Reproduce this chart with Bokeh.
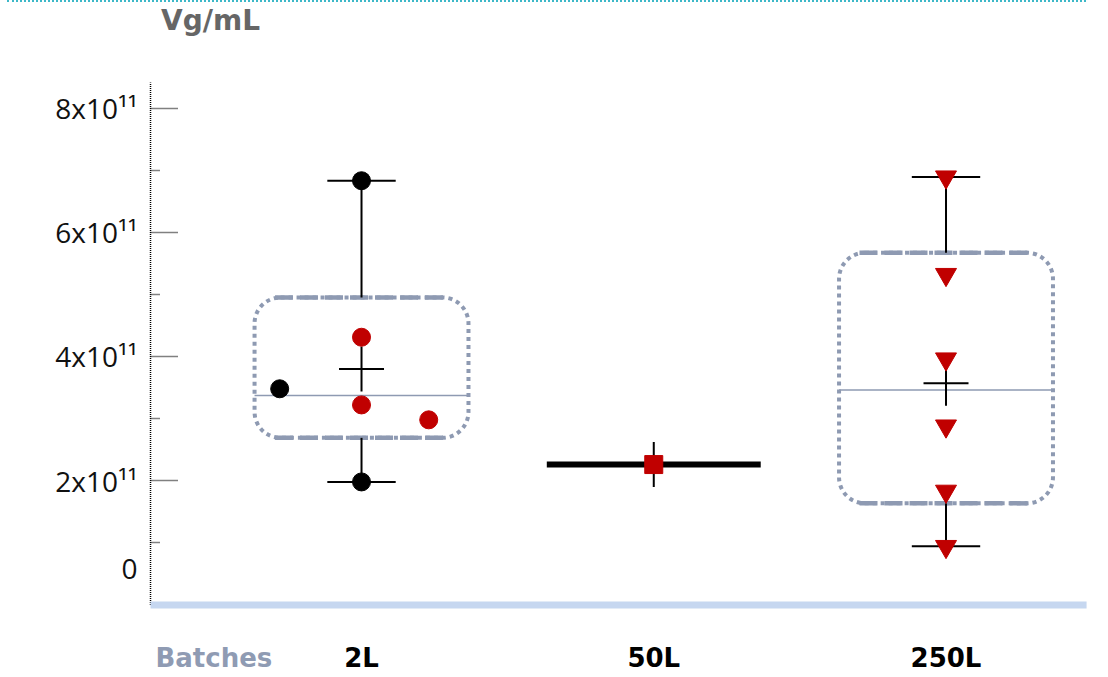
from bokeh.plotting import figure
from bokeh.models import FixedTicker, Label, LabelSet, ColumnDataSource, Range1d, Div
from bokeh.layouts import column
from bokeh.embed import file_html
from bokeh.resources import INLINE
from bokeh.core.properties import value

# ---------------- data ----------------
groups = ["2L", "50L", "250L"]
group_pos = [1, 2, 3]
q1 = [2.69e11, 2.26e11, 1.635e11]
q3 = [4.95e11, 2.26e11, 5.67e11]
medians = [3.37e11, 2.26e11, 3.46e11]
means = [3.80e11, 2.26e11, 3.57e11]
whisker_low = [1.98e11, 2.26e11, 0.945e11]
whisker_high = [6.83e11, 2.26e11, 6.89e11]

pts_group = ["2L"] * 6 + ["50L"] + ["250L"] * 6
pts_value = [6.83e11, 4.31e11, 3.48e11, 3.22e11, 2.98e11, 1.98e11,
             2.26e11,
             6.89e11, 5.32e11, 3.96e11, 2.88e11, 1.83e11, 0.94e11]
pts_jitter = [0, 0, -0.28, 0, 0.23, 0,
              0,
              0, 0, 0, 0, 0, 0]
pts_color = ["#000000", "#c00000", "#000000", "#c00000", "#c00000", "#000000",
             "#c00000",
             "#c00000", "#c00000", "#c00000", "#c00000", "#c00000", "#c00000"]

y_ticks = [200000000000, 400000000000, 600000000000, 800000000000]
y_minor_ticks = [100000000000, 300000000000, 500000000000, 700000000000]
y_tick_labels = ["2x10¹¹", "4x10¹¹", "6x10¹¹", "8x10¹¹"]
y_zero_label = "0"

y_title = "Vg/mL"
x_title = "Batches"

# ---------------- layout / style ----------------
BOX_HALF = 0.366
CAP_HALF = 0.117
EDGE_INSET = 0.07
GREY = "#8e9ab2"
# plotting area spans the whole canvas; axis drawn at AXIS_X
X_START, X_END = -0.2353, 3.5560
AXIS_X, AXIS_RIGHT = 0.278, 3.481
Y_START, Y_END = -1.169e11, 9.70e11
AXIS_TOP = 8.41e11
marker_for = {"2L": "circle", "50L": "square", "250L": "inverted_triangle"}
size_for = {"2L": 18, "50L": 18, "250L": 21}

p = figure(width=1108, height=675, output_backend="svg", toolbar_location=None,
           x_range=Range1d(X_START, X_END), y_range=Range1d(Y_START, Y_END),
           min_border_left=0, min_border_right=0, min_border_top=0,
           min_border_bottom=0)
p.xgrid.visible = False
p.ygrid.visible = False
p.xaxis.visible = False
p.outline_line_color = None
p.background_fill_color = "white"
p.border_fill_color = "white"

# y axis placed inside at AXIS_X
p.yaxis.fixed_location = AXIS_X
p.yaxis.ticker = FixedTicker(ticks=y_ticks, minor_ticks=y_minor_ticks)
p.yaxis.major_label_overrides = dict(zip(y_ticks, y_tick_labels))
p.yaxis.axis_line_color = None
p.yaxis.major_tick_in = 27
p.yaxis.major_tick_out = 0
p.yaxis.major_tick_line_dash = "1 1"
p.yaxis.major_tick_line_width = 1.3
p.yaxis.major_tick_line_color = "#000000"
p.yaxis.minor_tick_in = 10
p.yaxis.minor_tick_out = 0
p.yaxis.minor_tick_line_dash = "1 1"
p.yaxis.minor_tick_line_width = 1.3
p.yaxis.minor_tick_line_color = "#000000"
p.yaxis.major_label_standoff = 13
p.yaxis.major_label_text_font = "Open Sans"
p.yaxis.major_label_text_font_size = "28px"
p.yaxis.major_label_text_color = "#111111"

# axis lines
p.segment(x0=[AXIS_X], x1=[AXIS_X], y0=[0], y1=[AXIS_TOP],
          line_color="#000000", line_width=1.5, line_dash="1 1")
p.segment(x0=[AXIS_X], x1=[AXIS_RIGHT], y0=[0], y1=[0],
          line_color="#c6d7f0", line_width=7)

# boxes (non-degenerate)
box_idx = [i for i in range(len(groups)) if q3[i] > q1[i]]
bx = [group_pos[i] for i in box_idx]
box_src = ColumnDataSource(dict(
    left=[x - BOX_HALF for x in bx], right=[x + BOX_HALF for x in bx],
    top=[q3[i] for i in box_idx], bottom=[q1[i] for i in box_idx],
    med=[medians[i] for i in box_idx],
    el=[x - BOX_HALF + EDGE_INSET for x in bx], er=[x + BOX_HALF - EDGE_INSET for x in bx],
))
p.quad(left="left", right="right", top="top", bottom="bottom", source=box_src,
       fill_color=None, line_color=GREY, line_width=4, line_dash="4 4",
       border_radius=26)
p.segment(x0="el", x1="er", y0="top", y1="top", source=box_src,
          line_color=GREY, line_width=4.5, line_dash="18 7")
p.segment(x0="el", x1="er", y0="bottom", y1="bottom", source=box_src,
          line_color=GREY, line_width=4.5, line_dash="18 7")
p.segment(x0="left", x1="right", y0="med", y1="med", source=box_src,
          line_color=GREY, line_width=1.5)

# whiskers and caps
wh_idx = [i for i in range(len(groups)) if whisker_high[i] > whisker_low[i]]
wx = [group_pos[i] for i in wh_idx]
wh_src = ColumnDataSource(dict(
    x=wx, q1=[q1[i] for i in wh_idx], q3=[q3[i] for i in wh_idx],
    lo=[whisker_low[i] for i in wh_idx], hi=[whisker_high[i] for i in wh_idx],
    cl=[x - CAP_HALF for x in wx], cr=[x + CAP_HALF for x in wx],
))
p.segment(x0="x", x1="x", y0="q3", y1="hi", source=wh_src, line_color="black", line_width=2)
p.segment(x0="x", x1="x", y0="q1", y1="lo", source=wh_src, line_color="black", line_width=2)
p.segment(x0="cl", x1="cr", y0="hi", y1="hi", source=wh_src, line_color="black", line_width=2)
p.segment(x0="cl", x1="cr", y0="lo", y1="lo", source=wh_src, line_color="black", line_width=2)

# degenerate boxes (single value) drawn as thick line
dg_idx = [i for i in range(len(groups)) if q3[i] == q1[i]]
dx = [group_pos[i] for i in dg_idx]
dg_src = ColumnDataSource(dict(
    l=[x - BOX_HALF for x in dx], r=[x + BOX_HALF for x in dx],
    y=[medians[i] for i in dg_idx],
))
p.segment(x0="l", x1="r", y0="y", y1="y", source=dg_src, line_color="black", line_width=6)

# means
p.scatter(x=group_pos, y=means, marker="cross", size=45, line_color="black", line_width=2)

# points
pos_of = dict(zip(groups, group_pos))
for g in groups:
    idx = [i for i, gg in enumerate(pts_group) if gg == g]
    src = ColumnDataSource(dict(
        x=[pos_of[g] + pts_jitter[i] for i in idx],
        y=[pts_value[i] for i in idx],
        c=[pts_color[i] for i in idx],
    ))
    p.scatter(x="x", y="y", source=src, marker=marker_for[g], size=size_for[g],
              fill_color="c", line_color="c", line_width=1)

# x category labels
lab_src = ColumnDataSource(dict(x=group_pos, y=[0] * len(groups), t=groups))
p.add_layout(LabelSet(x="x", y="y", text="t", source=lab_src, y_offset=-53,
                      text_align="center", text_baseline="middle",
                      text_font=value("DejaVu Sans"), text_font_style="bold",
                      text_font_size="26px", text_color="#000000"))

p.add_layout(Label(x=AXIS_X, y=0, text=x_title, x_offset=5, y_offset=-53,
                   text_align="left", text_baseline="middle",
                   text_font="DejaVu Sans", text_font_style="bold",
                   text_font_size="26px", text_color="#8f9bb3"))

p.add_layout(Label(x=AXIS_X, y=AXIS_TOP, text=y_title, x_offset=60, y_offset=62,
                   text_align="center", text_baseline="middle",
                   text_font="DejaVu Sans", text_font_style="bold",
                   text_font_size="28px", text_color="#666666"))

# zero tick label (drawn raised, as in the original)
p.add_layout(Label(x=AXIS_X, y=0, text=y_zero_label, x_offset=-13, y_offset=36,
                   text_align="right", text_baseline="middle",
                   text_font="Open Sans", text_font_size="28px",
                   text_color="#111111"))

top_rule = Div(text="", width=1079, height=2, margin=(0, 0, 0, 7),
               styles={"border-top": "2px dotted #3db8c8"})

layout = column(top_rule, p, spacing=0)
open("out.html", "w").write(file_html(layout, INLINE))
